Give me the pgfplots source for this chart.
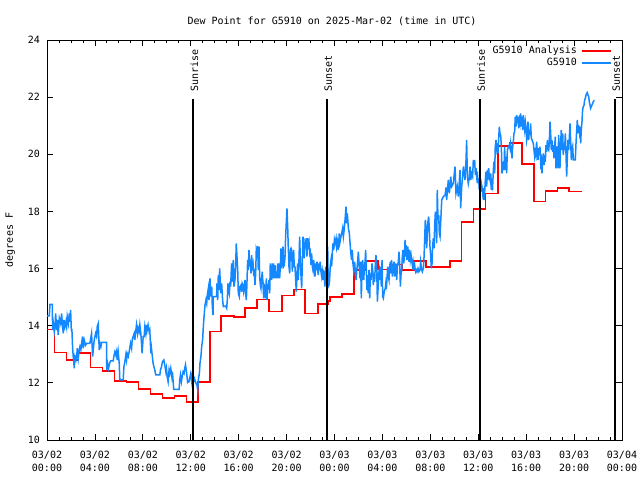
\documentclass[border=0pt]{standalone}
\usepackage{fontspec}
\setmainfont{DejaVu Sans Mono}
\setmonofont{DejaVu Sans Mono}
\usepackage{pgfplots}
\pgfplotsset{compat=1.18}
\definecolor{obsblue}{RGB}{20,136,255}
\begin{document}
\fontsize{10bp}{12bp}\selectfont
\begin{tikzpicture}
\path[use as bounding box] (0,0) rectangle (640bp,480bp);
\begin{axis}[
  at={(47bp,40bp)}, anchor=south west,
  scale only axis, width=575bp, height=400bp,
  xmin=0, xmax=48, ymin=10, ymax=24,
  xtick={0,4,...,48},
  xticklabels={{03/02\\00:00},{03/02\\04:00},{03/02\\08:00},{03/02\\12:00},{03/02\\16:00},{03/02\\20:00},{03/03\\00:00},{03/03\\04:00},{03/03\\08:00},{03/03\\12:00},{03/03\\16:00},{03/03\\20:00},{03/04\\00:00}},
  minor x tick num=3,
  ytick={10,12,...,24},
  tick align=inside,
  major tick length=6bp, minor tick length=3bp,
  axis line style={line width=0.8bp},
  every tick/.style={black, line width=0.8bp},
  /pgf/number format/assume math mode=true,
  xticklabel style={align=center, font=\fontsize{10bp}{13.5bp}\selectfont, yshift=-7.5bp},
  yticklabel style={font=\fontsize{10bp}{12bp}\selectfont, xshift=-3.5bp},
  title={Dew Point for G5910 on 2025-Mar-02 (time in UTC)},
  title style={at={(rel axis cs:0.4957,1.025)}, anchor=base, font=\fontsize{10bp}{12bp}\selectfont},
  ylabel={degrees F},
  every axis y label/.style={at={(rel axis cs:-0.0643,0.5)}, rotate=90, anchor=center, font=\fontsize{10bp}{12bp}\selectfont},
  legend plot pos=right,
  legend image code/.code={\draw[#1] (0bp,0bp) -- (29bp,0bp);},
  legend style={at={(rel axis cs:1,1)}, anchor=north east, xshift=-10bp, yshift=-5bp, draw=none, fill=none, inner sep=0pt, row sep=0pt, column sep=3bp, font=\fontsize{10bp}{12bp}\selectfont, nodes={text height=7.5bp, text depth=2bp, inner sep=1.25bp}},
  legend cell align=right,
]
\addplot[const plot, red, line width=1.6bp] coordinates {
(0,13.87) (0.63,13.06) (1.63,12.8) (2.63,13.05) (3.63,12.54) (4.63,12.41) (5.63,12.06) (6.63,12.02) (7.63,11.79) (8.63,11.6) (9.63,11.47) (10.63,11.53) (11.63,11.32) (12.63,12.02) (13.63,13.8) (14.55,14.33) (15.6,14.3) (16.55,14.62) (17.55,14.92) (18.55,14.5) (19.6,15.06) (20.6,15.27) (21.55,14.43) (22.6,14.75) (23.45,14.87) (23.63,15.0) (24.63,15.1) (25.63,15.94) (26.63,16.27) (27.63,15.97) (28.63,16.14) (29.63,15.95) (30.63,16.27) (31.63,16.06) (33.63,16.27) (34.6,17.62) (35.6,18.08) (36.6,18.63) (37.63,20.28) (38.6,20.4) (39.63,19.65) (40.63,18.35) (41.63,18.72) (42.63,18.81) (43.6,18.70) (44.63,18.70)
};
\addlegendentry{G5910 Analysis}
\addplot[obsblue, line width=1.5bp] coordinates {
(0.0,14.34) (0.19,14.34) (0.25,14.75) (0.44,14.75) (0.47,13.85) (0.53,14.08) (0.61,13.79) (0.67,13.97) (0.72,14.43) (0.81,13.85) (0.86,14.2) (0.94,13.67) (1.03,14.26) (1.14,14.08) (1.22,14.43) (1.28,14.08) (1.36,13.73) (1.42,14.2) (1.5,13.97) (1.58,14.14) (1.64,13.97) (1.69,14.32) (1.78,14.08) (1.86,14.43) (1.92,14.14) (1.97,14.55) (2.03,13.85) (2.08,13.85) (2.14,13.21) (2.19,12.92) (2.28,12.51) (2.33,12.92) (2.42,12.8) (2.47,12.92) (2.53,13.21) (2.61,12.86) (2.69,13.15) (2.75,13.27) (2.83,13.15) (2.89,13.38) (2.97,13.62) (3.03,13.21) (3.11,13.5) (3.22,13.32) (3.31,13.38) (3.58,13.38) (3.72,13.73) (3.81,12.92) (3.86,13.15) (3.94,13.5) (4.06,13.73) (4.14,13.62) (4.19,13.97) (4.28,14.08) (4.36,13.15) (4.42,13.38) (4.5,13.27) (4.56,13.42) (4.97,13.42) (4.99,12.45) (5.06,12.68) (5.14,12.51) (5.22,12.68) (5.31,12.77) (5.53,12.77) (5.58,12.92) (5.67,13.09) (5.75,12.97) (5.81,13.09) (5.86,12.8) (5.94,13.09) (6.03,12.68) (6.08,12.1) (6.36,12.1) (6.42,12.57) (6.5,12.74) (6.58,12.97) (6.64,12.8) (6.69,13.03) (6.78,12.92) (6.86,13.09) (6.97,13.38) (7.06,13.21) (7.11,13.5) (7.19,13.62) (7.28,13.73) (7.33,13.5) (7.42,13.85) (7.47,14.03) (7.56,13.73) (7.61,13.91) (7.69,13.79) (7.75,14.03) (7.83,13.73) (7.89,13.38) (7.94,13.03) (8.03,13.62) (8.11,13.62) (8.17,13.97) (8.25,13.73) (8.31,14.03) (8.36,13.85) (8.44,14.03) (8.53,13.79) (8.58,13.85) (8.67,13.03) (8.72,13.21) (8.81,12.86) (8.86,12.68) (8.92,12.57) (9.0,12.45) (9.08,12.28) (9.42,12.28) (9.47,12.45) (9.56,12.57) (9.64,12.74) (9.75,12.8) (9.83,12.63) (9.92,12.39) (9.97,12.51) (10.03,12.22) (10.11,12.04) (10.19,12.45) (10.25,12.33) (10.33,12.51) (10.42,12.22) (10.47,12.39) (10.53,12.04) (10.58,11.77) (11.03,11.77) (11.08,12.1) (11.14,12.28) (11.22,12.04) (11.31,12.28) (11.36,12.39) (11.44,12.33) (11.5,12.51) (11.56,12.63)
(11.66,12.33) (11.74,12.01) (11.85,12.04) (11.99,12.31) (12.08,12.04) (12.13,12.27) (12.22,12.01) (12.30,12.16) (12.35,12.1) (12.44,11.98) (12.52,11.92) (12.58,11.75) (12.63,12.1) (12.72,12.33) (12.77,12.68) (12.86,12.97) (12.91,13.27) (12.99,13.5) (13.05,13.97) (13.11,14.32) (13.19,14.72) (13.27,14.9) (13.33,14.78) (13.38,15.07) (13.47,15.31) (13.52,14.9) (13.61,15.66) (13.66,15.02) (13.75,15.37) (13.80,14.67) (13.86,14.37) (13.88,15.02) (14.16,15.02) (14.19,15.48) (14.25,14.9) (14.30,15.77) (14.36,15.25) (14.41,16.01) (14.47,15.48) (14.52,15.13) (14.58,15.48) (14.66,14.9) (14.72,14.67) (14.91,14.69) (15.0,14.61) (15.05,14.9) (15.11,15.48) (15.16,15.25) (15.22,15.13) (15.28,15.54) (15.33,15.37) (15.41,16.18) (15.5,15.54) (15.55,16.3) (15.61,15.37) (15.69,15.6) (15.75,16.12) (15.8,16.88) (15.86,16.42) (15.92,15.95) (15.97,15.13) (16.05,15.02) (16.11,15.37) (16.19,15.42) (16.25,15.19) (16.3,15.48) (16.36,15.42) (16.42,15.19) (16.47,15.31) (16.53,15.6) (16.58,15.13) (16.64,14.9) (16.69,15.48) (16.75,16.3) (16.81,15.95) (16.86,16.65) (16.92,16.07) (16.97,16.3) (17.03,15.83) (17.08,16.47) (17.14,16.07) (17.2,16.18) (17.25,15.83) (17.31,15.89) (17.36,15.42) (17.42,15.83) (17.47,16.65) (17.53,16.53) (17.59,16.79) (17.64,15.95) (17.7,16.77) (17.75,15.72) (17.81,15.42) (17.86,15.31) (17.92,15.66) (17.97,15.89) (18.03,15.48) (18.09,14.96) (18.14,15.42) (18.2,15.37) (18.25,14.96) (18.31,15.66) (18.36,14.9) (18.42,15.37) (18.48,15.42) (18.53,15.6) (18.59,15.13) (18.64,16.18) (18.7,15.89) (18.75,15.6) (18.81,16.18) (18.86,15.66) (18.92,16.18) (18.98,15.66) (19.03,16.12) (19.09,15.66) (19.14,15.89) (19.2,15.66) (19.25,16.18) (19.31,15.66) (19.37,16.18) (19.42,15.66) (19.48,16.07) (19.53,16.71) (19.59,16.01) (19.64,16.53) (19.7,16.77) (19.75,16.07) (19.81,16.12) (19.87,16.42) (19.92,17.12) (19.98,17.64) (20.03,18.11) (20.09,17.47) (20.14,16.77) (20.2,16.07) (20.26,15.83) (20.31,16.65) (20.37,16.71) (20.42,16.65) (20.48,15.89) (20.53,16.3) (20.59,16.65) (20.64,16.07) (20.7,16.07) (20.76,15.6) (20.81,15.19) (20.87,15.77) (20.92,16.18) (20.98,15.6) (21.03,16.24) (21.09,17.12) (21.15,16.3) (21.2,15.77) (21.26,15.31) (21.31,16.12) (21.37,17.12) (21.42,16.65) (21.48,16.36) (21.54,16.94) (21.59,16.88) (21.65,17.06) (21.7,16.42) (21.76,17.06) (21.81,16.82) (21.87,16.94) (21.93,16.53) (21.98,16.59) (22.04,16.12) (22.09,16.53) (22.15,16.07) (22.2,15.95) (22.26,16.3) (22.31,16.07) (22.37,15.72) (22.43,16.18) (22.48,15.95) (22.54,16.24) (22.59,15.95) (22.65,15.77) (22.7,16.18) (22.76,15.95) (22.81,16.24) (22.87,15.89) (22.93,15.72) (22.98,15.89) (23.04,15.6) (23.09,15.89) (23.15,15.83) (23.2,15.37) (23.26,16.07) (23.32,15.6) (23.37,16.3) (23.43,16.77) (23.48,15.37) (23.54,15.42) (23.59,15.6) (23.65,16.12) (23.71,16.3) (23.76,16.07) (23.82,16.53) (23.87,16.88) (23.93,16.65) (23.99,17.0)
(24.04,16.88) (24.13,17.06) (24.18,16.77) (24.24,16.94) (24.32,16.65) (24.4,17.23) (24.46,16.94) (24.51,17.06) (24.6,17.23) (24.68,17.41) (24.74,17.12) (24.79,17.29) (24.88,17.7) (24.96,18.17) (25.02,17.58) (25.07,17.93) (25.16,17.41) (25.24,17.23) (25.29,16.94) (25.35,16.59) (25.43,16.3) (25.49,16.65) (25.54,16.18) (25.6,15.95) (25.68,16.24) (25.74,15.83) (25.8,15.6) (25.85,15.89) (25.93,16.24) (25.99,16.59) (26.07,16.01) (26.13,15.66) (26.18,16.24) (26.24,14.96) (26.3,16.07) (26.35,16.3) (26.44,15.6) (26.49,16.01) (26.55,16.24) (26.6,16.65) (26.66,15.89) (26.71,15.25) (26.77,15.77) (26.82,15.13) (26.88,15.95) (26.94,14.96) (26.99,15.83) (27.05,15.6) (27.13,16.18) (27.19,15.95) (27.24,15.42) (27.3,15.83) (27.35,15.54) (27.41,16.18) (27.46,16.47) (27.52,16.12) (27.58,14.84) (27.63,15.25) (27.69,15.83) (27.74,15.95) (27.8,15.6) (27.85,16.07) (27.91,15.37) (27.97,16.3) (28.02,15.02) (28.08,14.96) (28.13,15.13) (28.19,15.25) (28.24,15.31) (28.3,15.54) (28.35,15.42) (28.44,16.07) (28.49,15.72) (28.55,15.6) (28.61,16.07) (28.66,16.24) (28.72,15.83) (28.77,16.3) (28.83,15.72) (28.91,16.01) (28.97,16.24) (29.02,15.72) (29.08,16.01) (29.13,16.18) (29.19,15.6) (29.25,16.07) (29.33,16.24) (29.38,16.59) (29.44,16.18) (29.5,15.37) (29.55,15.77) (29.61,15.95) (29.66,16.42) (29.72,16.65) (29.77,16.18) (29.83,16.36) (29.89,17.0) (29.94,16.42) (30.0,16.82) (30.05,16.3) (30.11,16.77) (30.16,16.59) (30.22,16.24) (30.27,16.65) (30.33,16.3) (30.39,16.47) (30.44,16.3) (30.5,16.12) (30.55,16.24) (30.61,15.95) (30.66,16.24) (30.72,16.01) (30.78,15.89) (30.83,15.95) (30.89,15.89) (30.97,16.01) (31.05,15.89) (31.14,15.95) (31.19,16.24) (31.28,15.95) (31.33,15.89) (31.42,16.01) (31.47,16.36) (31.53,17.06) (31.58,17.7) (31.64,17.47) (31.69,16.71) (31.75,17.18) (31.8,17.64) (31.86,17.82) (31.92,17.35) (31.97,16.77) (32.03,16.47) (32.08,16.01) (32.14,16.18) (32.19,16.77) (32.25,17.06) (32.31,16.71) (32.36,17.47) (32.42,17.99) (32.47,17.64) (32.53,16.88) (32.58,18.75) (32.64,17.7) (32.7,17.87) (32.75,17.23) (32.81,17.12)
(32.95,18.4) (33.09,18.52) (33.23,18.57) (33.31,18.84) (33.36,18.4) (33.5,19.1) (33.59,18.63) (33.7,19.22) (33.78,18.87) (33.92,18.98) (34.06,19.57) (34.14,18.63) (34.25,18.87) (34.34,18.52) (34.48,19.45) (34.53,18.11) (34.62,18.87) (34.76,19.57) (34.89,19.1) (34.98,19.8) (35.03,20.5) (35.09,19.22) (35.17,18.98) (35.26,19.22) (35.31,19.57)
(35.37,19.1) (35.45,19.33) (35.53,19.22) (35.59,19.8) (35.64,19.57) (35.7,19.8) (35.76,19.27) (35.81,19.51) (35.87,19.22) (35.92,19.39) (35.98,18.98) (36.03,19.16) (36.09,18.75) (36.14,19.1) (36.2,18.69) (36.26,18.98) (36.31,18.87) (36.37,18.63) (36.42,18.81) (36.48,18.4) (36.53,18.63) (36.59,19.1) (36.65,19.39) (36.7,18.87) (36.76,19.45) (36.81,19.1) (36.87,19.51) (36.92,19.22) (36.98,19.1) (37.04,19.33) (37.09,18.75) (37.15,18.98) (37.2,18.87) (37.26,19.45) (37.31,19.74) (37.37,19.33) (37.42,20.27) (37.48,20.5) (37.54,20.21) (37.59,20.38) (37.65,20.03) (37.7,20.5) (37.76,20.97) (37.81,20.73) (37.87,20.67) (37.93,20.27) (37.98,19.33) (38.04,19.51) (38.09,19.74) (38.15,19.45) (38.2,20.27) (38.26,19.45) (38.32,19.92) (38.37,19.33) (38.43,20.15) (38.48,20.21) (38.54,20.27) (38.59,20.32) (38.65,20.21) (38.7,20.38) (38.76,20.09) (38.82,19.86) (38.87,20.27) (38.93,20.44) (38.98,20.73) (39.04,20.79) (39.09,21.32) (39.15,20.97) (39.21,21.37) (39.26,21.08) (39.32,21.32) (39.37,20.91) (39.43,21.2) (39.48,21.08) (39.54,21.43) (39.6,20.97) (39.65,21.32) (39.71,20.85) (39.76,21.37) (39.82,21.02) (39.87,20.85) (39.93,21.14) (39.98,20.97) (40.04,20.5) (40.1,20.67) (40.15,21.14) (40.21,20.5) (40.26,20.85) (40.32,20.67) (40.37,21.08) (40.43,20.56) (40.49,20.5) (40.54,20.44) (40.6,20.38) (40.65,20.15) (40.71,19.92) (40.76,20.09) (40.82,19.97) (40.87,20.44) (40.93,20.09) (40.99,19.8) (41.04,20.21) (41.1,19.97) (41.15,20.27) (41.21,19.68) (41.26,19.8) (41.32,19.33) (41.38,19.8) (41.43,20.03) (41.49,19.62) (41.54,19.97) (41.6,19.74) (41.65,20.32) (41.71,20.09) (41.77,20.5) (41.82,20.21) (41.88,20.15) (41.93,20.38) (41.99,21.14) (42.04,20.79) (42.1,20.15) (42.15,20.5) (42.21,20.09) (42.27,20.32) (42.32,19.86) (42.38,20.27) (42.43,20.62) (42.49,19.51) (42.54,20.27) (42.6,20.09) (42.66,19.51) (42.71,20.67) (42.77,20.03) (42.82,19.51) (42.88,20.38) (42.93,20.85) (42.99,20.15) (43.05,20.73) (43.1,19.97) (43.16,20.38) (43.21,20.15) (43.27,20.73) (43.32,20.09) (43.38,19.22) (43.44,19.92) (43.49,20.5) (43.55,20.15) (43.6,20.56) (43.66,21.08) (43.71,20.5) (43.77,19.8) (43.82,20.15) (43.88,20.27) (43.94,19.8) (44.1,19.8) (44.16,20.38) (44.21,20.79) (44.27,21.2) (44.33,20.73) (44.38,21.02) (44.44,20.79) (44.49,20.97) (44.55,20.38) (44.6,20.85) (44.66,21.14) (44.71,21.55) (44.77,21.67) (44.83,21.72) (44.88,21.9) (44.94,21.96) (44.99,22.07) (45.05,22.13) (45.1,22.16) (45.16,22.07) (45.22,22.02) (45.27,21.84) (45.33,21.72) (45.38,21.61) (45.44,21.67) (45.49,21.72) (45.55,21.78) (45.6,21.84) (45.66,21.88) (45.71,21.88)
};
\addlegendentry{G5910}
\addplot[black, line width=1.3bp, forget plot] coordinates {(12.19,10) (12.19,21.93)};
\addplot[black, line width=1.3bp, forget plot] coordinates {(23.37,10) (23.37,21.93)};
\addplot[black, line width=1.3bp, forget plot] coordinates {(36.14,10) (36.14,21.93)};
\addplot[black, line width=1.3bp, forget plot] coordinates {(47.41,10) (47.41,21.93)};
\node[rotate=90, anchor=west, inner sep=0pt] at (axis cs:12.30,22.18) {Sunrise};
\node[rotate=90, anchor=west, inner sep=0pt] at (axis cs:23.48,22.18) {Sunset};
\node[rotate=90, anchor=west, inner sep=0pt] at (axis cs:36.25,22.18) {Sunrise};
\node[rotate=90, anchor=west, inner sep=0pt] at (axis cs:47.52,22.18) {Sunset};
\end{axis}
\end{tikzpicture}
\end{document}
